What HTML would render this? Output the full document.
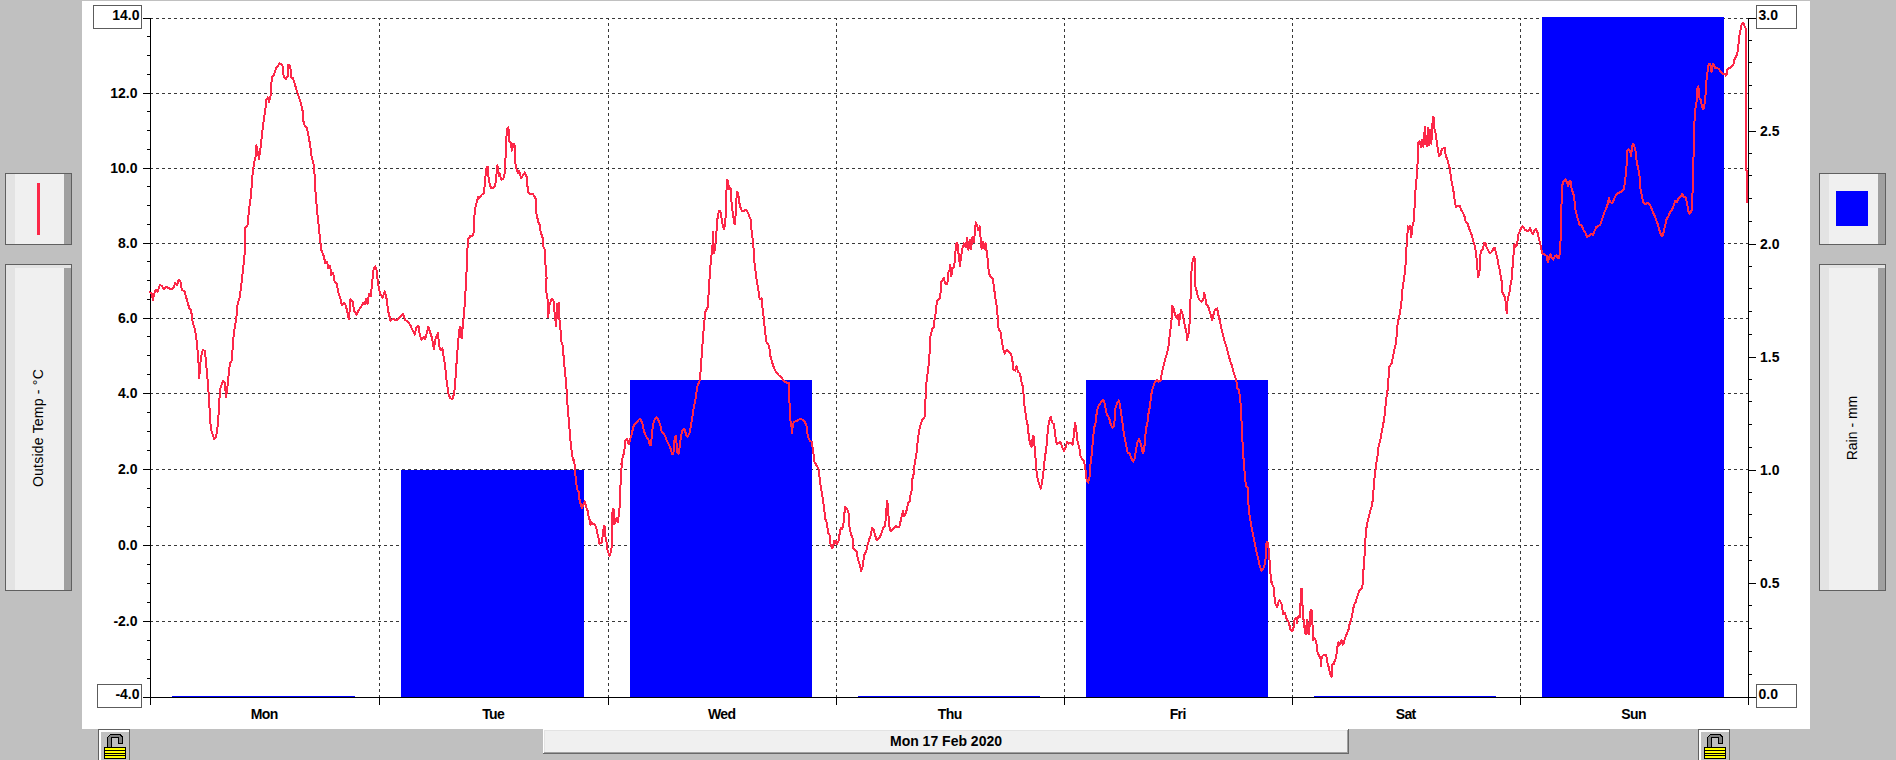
<!DOCTYPE html>
<html lang="en"><head><meta charset="utf-8"><title>Weather chart - Mon 17 Feb 2020</title>
<style>
html,body{margin:0;padding:0;background:#c0c0c0;overflow:hidden}
body{width:1896px;height:760px;position:relative}
svg{position:absolute;left:0;top:0;display:block}
text{font-family:"Liberation Sans",sans-serif;fill:#000}
.b{font-weight:bold;font-size:14px}
.r{font-size:14px}
</style></head><body>
<svg width="1896" height="760" viewBox="0 0 1896 760" shape-rendering="crispEdges">
<rect x="0" y="0" width="1896" height="760" fill="#c0c0c0"/>
<rect x="82" y="1" width="1728" height="728" fill="#fff"/>
<g fill="none" stroke="#383838" stroke-width="1" stroke-dasharray="3 3">
<path d="M150 18.5H1748"/>
<path d="M150 93.5H1748"/>
<path d="M150 168.5H1748"/>
<path d="M150 243.5H1748"/>
<path d="M150 318.5H1748"/>
<path d="M150 393.5H1748"/>
<path d="M150 469.5H1748"/>
<path d="M150 545.5H1748"/>
<path d="M150 621.5H1748"/>
<path d="M379.5 698V18"/>
<path d="M608.5 698V18"/>
<path d="M836.5 698V18"/>
<path d="M1064.5 698V18"/>
<path d="M1292.5 698V18"/>
<path d="M1520.5 698V18"/>
</g>
<rect x="172" y="696" width="183" height="1" fill="#0000ff"/>
<rect x="401" y="470" width="183" height="227" fill="#0000ff"/>
<rect x="630" y="380" width="182" height="317" fill="#0000ff"/>
<rect x="858" y="696" width="182" height="1" fill="#0000ff"/>
<rect x="1086" y="380" width="182" height="317" fill="#0000ff"/>
<rect x="1314" y="696" width="182" height="1" fill="#0000ff"/>
<rect x="1542" y="17" width="182" height="680" fill="#0000ff"/>
<g fill="#000">
<rect x="150" y="18" width="1" height="687"/>
<rect x="1748" y="18" width="1" height="687"/>
<rect x="143" y="697" width="1613" height="1"/>
<rect x="379" y="697" width="1" height="8"/>
<rect x="608" y="697" width="1" height="8"/>
<rect x="836" y="697" width="1" height="8"/>
<rect x="1064" y="697" width="1" height="8"/>
<rect x="1292" y="697" width="1" height="8"/>
<rect x="1520" y="697" width="1" height="8"/>
<rect x="143" y="18" width="8" height="1"/>
<rect x="147" y="36" width="4" height="1"/>
<rect x="147" y="55" width="4" height="1"/>
<rect x="147" y="74" width="4" height="1"/>
<rect x="143" y="93" width="8" height="1"/>
<rect x="147" y="111" width="4" height="1"/>
<rect x="147" y="130" width="4" height="1"/>
<rect x="147" y="149" width="4" height="1"/>
<rect x="143" y="168" width="8" height="1"/>
<rect x="147" y="186" width="4" height="1"/>
<rect x="147" y="205" width="4" height="1"/>
<rect x="147" y="224" width="4" height="1"/>
<rect x="143" y="243" width="8" height="1"/>
<rect x="147" y="261" width="4" height="1"/>
<rect x="147" y="280" width="4" height="1"/>
<rect x="147" y="299" width="4" height="1"/>
<rect x="143" y="318" width="8" height="1"/>
<rect x="147" y="336" width="4" height="1"/>
<rect x="147" y="355" width="4" height="1"/>
<rect x="147" y="374" width="4" height="1"/>
<rect x="143" y="393" width="8" height="1"/>
<rect x="147" y="412" width="4" height="1"/>
<rect x="147" y="431" width="4" height="1"/>
<rect x="147" y="450" width="4" height="1"/>
<rect x="143" y="469" width="8" height="1"/>
<rect x="147" y="488" width="4" height="1"/>
<rect x="147" y="507" width="4" height="1"/>
<rect x="147" y="526" width="4" height="1"/>
<rect x="143" y="545" width="8" height="1"/>
<rect x="147" y="564" width="4" height="1"/>
<rect x="147" y="583" width="4" height="1"/>
<rect x="147" y="602" width="4" height="1"/>
<rect x="143" y="621" width="8" height="1"/>
<rect x="147" y="640" width="4" height="1"/>
<rect x="147" y="659" width="4" height="1"/>
<rect x="147" y="678" width="4" height="1"/>
<rect x="143" y="697" width="8" height="1"/>
<rect x="1748" y="18" width="8" height="1"/>
<rect x="1748" y="40" width="4" height="1"/>
<rect x="1748" y="62" width="4" height="1"/>
<rect x="1748" y="85" width="4" height="1"/>
<rect x="1748" y="108" width="4" height="1"/>
<rect x="1748" y="131" width="8" height="1"/>
<rect x="1748" y="153" width="4" height="1"/>
<rect x="1748" y="175" width="4" height="1"/>
<rect x="1748" y="198" width="4" height="1"/>
<rect x="1748" y="221" width="4" height="1"/>
<rect x="1748" y="244" width="8" height="1"/>
<rect x="1748" y="266" width="4" height="1"/>
<rect x="1748" y="288" width="4" height="1"/>
<rect x="1748" y="311" width="4" height="1"/>
<rect x="1748" y="334" width="4" height="1"/>
<rect x="1748" y="357" width="8" height="1"/>
<rect x="1748" y="379" width="4" height="1"/>
<rect x="1748" y="401" width="4" height="1"/>
<rect x="1748" y="424" width="4" height="1"/>
<rect x="1748" y="447" width="4" height="1"/>
<rect x="1748" y="470" width="8" height="1"/>
<rect x="1748" y="492" width="4" height="1"/>
<rect x="1748" y="514" width="4" height="1"/>
<rect x="1748" y="537" width="4" height="1"/>
<rect x="1748" y="560" width="4" height="1"/>
<rect x="1748" y="583" width="8" height="1"/>
<rect x="1748" y="605" width="4" height="1"/>
<rect x="1748" y="628" width="4" height="1"/>
<rect x="1748" y="651" width="4" height="1"/>
<rect x="1748" y="674" width="4" height="1"/>
<rect x="1748" y="697" width="8" height="1"/>
</g>
<path d="M150 292.6 L151.6 293.4 L152.9 300 L154.2 293.4 L156.1 289.5 L157.6 291.6 L160 285 L162.1 286.3 L163.9 289.5 L166.1 286.8 L168.7 288.2 L171.3 289.5 L173.9 286.8 L175.3 282.9 L177.1 285.5 L178.7 279.7 L180.5 281.6 L181.8 289.5 L184.5 291.6 L186.6 298.7 L189.2 307.9 L191.1 310.5 L192.9 323.7 L195 328.9 L197.1 344.7 L198.4 360.5 L199.2 378.2 L200.3 363.2 L201.6 353.9 L202.9 349.5 L205 351.3 L206.3 365.8 L208.2 386.8 L209.5 407.9 L210.8 428.9 L212.6 434.2 L214.2 438.9 L216.1 436.8 L217.4 428.9 L218.7 413.2 L220 389.5 L221.8 384.2 L223.2 380.8 L224.7 382.9 L226.1 396.8 L227.4 386.8 L228.7 373.7 L230 363.2 L231.8 360.5 L233.2 339.5 L234.5 328.9 L236.3 318.4 L237.6 303.9 L239.7 297.4 L241.1 286.8 L242.9 271.1 L244.5 255.3 L244.5 250 L244.5 228.9 L247.6 225 L248.9 210.5 L250.8 197.4 L252.4 176.3 L254.2 161.8 L256.1 155.3 L256.3 145.3 L258.2 153.9 L258.9 159.2 L260.3 150 L262.1 134.2 L263.4 122.4 L265.3 110.5 L266.1 100 L267.9 97.4 L268.9 102.1 L270.5 96.1 L271.8 77.6 L273.9 75 L276.1 67.9 L277.9 66.3 L279.7 63.2 L282.4 65.3 L283.7 76.3 L285.8 79.5 L287.6 76.3 L288.4 64.5 L290.3 65.8 L291.1 77.6 L292.9 77.6 L294.5 82.9 L296.3 89.5 L298.2 94.7 L300.3 101.3 L302.4 109.2 L303.4 121.1 L305 126.3 L306.8 127.6 L308.7 136.8 L310.3 146.1 L311.6 156.6 L313.4 163.2 L314.7 176.3 L315.5 192.1 L316.8 207.9 L318.2 221.1 L319.5 234.2 L321.3 250 L323.9 256.6 L325.3 263.2 L327.1 261.8 L328.4 268.4 L330 265.8 L331.3 275 L331.3 273.9 L333.2 272.6 L334.7 281.8 L336.6 283.2 L338.4 292.4 L340.5 298.9 L341.8 305.5 L343.7 302.9 L345.3 304.2 L347.1 310.8 L348.9 319.5 L350.5 298.9 L352.6 301.6 L354.2 310.8 L356.3 314.7 L358.4 310.8 L361.1 306.8 L362.9 302.9 L364.7 304.2 L366.3 298.9 L367.6 304.2 L368.9 293.7 L370.8 296.3 L372.1 283.2 L373.4 270 L375.3 266.1 L376.8 271.3 L377.9 283.2 L380 293.7 L382.6 297.6 L384.7 291.1 L386.6 298.9 L388.4 312.1 L390.5 320.5 L393.2 318.7 L395.8 320.5 L398.4 318.7 L400.5 316.1 L403.2 313.9 L405 320 L407.6 321.3 L410.3 325.3 L412.9 330.5 L414.7 334.5 L416.3 327.9 L418.4 325.8 L420 335.8 L421.6 339.7 L423.7 337.1 L425.3 338.9 L426.8 333.2 L428.2 326.6 L430 331.8 L432.1 338.4 L433.9 348.9 L435.8 337.1 L437.9 333.2 L439.2 346.3 L440.5 350.3 L442.4 348.4 L443.7 356.8 L445.3 367.4 L446.6 380.5 L448.4 393.7 L450.3 398.4 L452.4 398.9 L454.2 393.7 L455.5 377.9 L456.8 359.5 L458.2 341.1 L459.5 329.2 L460.5 326.6 L461.6 338.4 L462.9 325.3 L464.2 312.1 L465.3 294.2 L466.3 278.4 L467.1 252.1 L468.4 238.9 L470.5 235.8 L472.4 236.3 L473.7 232.4 L474.5 215.3 L475.5 207.4 L477.1 200.8 L478.4 196.8 L479.5 198.2 L481.6 194.7 L483.7 193.7 L484.7 185 L486.1 169.2 L487.6 166.6 L488.9 181.1 L490.8 187.6 L493.4 188.4 L495.3 185 L496.3 175.8 L497.4 165.3 L498.7 175.8 L499.5 173.2 L501.3 179.7 L503.4 178.4 L504.7 173.2 L505.8 152.1 L506.8 129.7 L508.4 127.1 L509.2 141.6 L511.1 142.9 L511.8 150.8 L513.2 144.2 L514.5 144.2 L515 161.3 L516.6 169.2 L517.9 173.2 L519.2 171.1 L521.1 178.4 L523.2 174.5 L525 172.4 L526.8 177.1 L527.9 191.6 L530.3 194.2 L532.9 194.2 L535.5 198.2 L536.3 212.6 L538.2 221.8 L539.5 224.5 L540.8 232.4 L542.6 237.6 L543.4 246.8 L544.7 249.5 L545.5 265.3 L546.6 278.4 L545.8 280 L546.8 298.4 L548.2 299.7 L548.2 316.8 L549.5 305 L551.6 298.9 L553.7 301.1 L554.7 314.2 L556.1 326.1 L557.4 303.7 L558.9 303.2 L559.5 319.5 L560.8 332.6 L561.6 343.2 L562.9 345.8 L563.9 361.6 L565.3 374.7 L566.3 385.3 L567.4 403.7 L568.7 419.5 L570 435.3 L571.3 448.4 L572.6 457.6 L573.9 461.6 L574.2 460 L575 469.5 L575.8 478.9 L577.1 489.2 L578.6 491.6 L579.7 501.1 L581.3 505.8 L582.1 508.2 L583.7 503.4 L584.9 501.4 L586.1 507.4 L587.6 510.5 L588.7 516.8 L589.7 520 L590.3 524.7 L591.6 522.4 L593.2 523.9 L595.1 524.7 L596.3 527.9 L597.6 534.2 L598.7 538.9 L599.5 543.7 L600.7 543.4 L601.8 542.1 L602.9 534.2 L603.9 526 L604.7 526.3 L605.5 537.4 L606.6 542.1 L607.4 550 L608.6 553.2 L609.4 556 L610.5 553.2 L611.5 548.4 L612.1 535.8 L612.1 515.3 L612.9 508.9 L613.7 509.7 L614.2 523.9 L615.3 522.4 L616.4 518.4 L617.2 521.6 L617.9 522.4 L618.7 515.3 L619.7 505.8 L620.3 488.4 L621.1 475.8 L621.6 466.3 L622.4 460 L621.3 464.2 L622.6 457.6 L624.2 452.4 L625.3 440.5 L627.1 439.2 L628.7 444.5 L630 440 L631.8 433.9 L633.2 427.4 L635 423.4 L637.1 422.1 L638.9 419.5 L640.5 418.9 L642.4 423.4 L643.7 430 L645 433.9 L646.8 437.9 L648.4 439.2 L649.7 444.5 L650.8 445.3 L651.6 437.9 L652.9 424.7 L654.7 419.5 L656.8 417.4 L658.7 420.8 L660.3 424.7 L661.6 431.3 L663.4 433.2 L665.3 436.6 L666.8 440.5 L668.7 444.5 L670.5 448.4 L672.1 453.7 L673.4 453.7 L674.7 437.9 L676.1 435.8 L677.1 452.4 L678.7 453.7 L680 444.5 L681.1 435.3 L682.6 430 L684.5 428.7 L686.3 435.3 L687.9 436.6 L689.7 432.6 L691.1 424.7 L692.4 416.8 L693.7 407.6 L695 402.4 L696.3 393.2 L697.6 385.3 L699.5 381.3 L700.5 372.1 L702.9 338.9 L704.2 323.2 L705.5 311.3 L707.6 307.4 L708.4 296.8 L709.7 275.8 L711.1 257.4 L712.4 249.5 L712.9 231.6 L713.7 253.4 L715 249.5 L716.1 236.3 L717.4 219.2 L718.9 211.3 L720.3 210.8 L721.3 216.6 L722.6 224.5 L723.9 228.9 L725.3 223.2 L726.1 204.7 L726.8 179.7 L728.2 181.1 L728.9 188.9 L730.5 187.6 L731.6 203.4 L733.2 216.6 L734.7 224.5 L735.8 212.6 L736.8 192.1 L738.2 192.9 L739.2 202.1 L740.5 207.4 L742.1 211.3 L744.5 210.5 L746.6 210 L748.4 213.9 L750.5 219.2 L751.6 231.1 L753.2 242.9 L754.2 260 L755.5 270.5 L756.8 281.1 L758.2 288.9 L759.7 299.5 L761.6 298.2 L762.4 307.4 L763.7 317.9 L765 331.1 L766.3 341.6 L768.7 345.5 L769.7 350 L770.5 356.6 L772.4 363.2 L774.2 368.4 L776.3 372.4 L778.9 375.5 L781.6 377.6 L784.2 381.1 L786.8 382.9 L788.7 382.9 L789.5 402.6 L790.3 419.7 L791.3 425 L792.1 433.4 L792.9 423.7 L794.7 421.6 L797.4 420.5 L800 418.9 L802.6 419.7 L804.7 421.6 L806.6 426.3 L807.9 436.8 L810 440.8 L811.8 442.1 L813.2 451.3 L814.5 461.8 L816.3 465 L818.4 468.4 L819.7 478.9 L821.1 489.5 L821.3 490 L822.6 497.9 L823.9 507.1 L825.3 518.9 L826.8 522.9 L828.2 533.4 L829.9 535.4 L830.5 543.9 L831.8 547.9 L833.2 546.6 L834.1 540.7 L835.1 542.6 L836.1 540.7 L837.1 543.9 L838.4 541.3 L839.7 533.4 L840.8 528.2 L842.1 529.5 L843.4 524.2 L844.3 515 L845 506.8 L846.3 508.4 L847.9 510.4 L848.9 515 L849.6 528.2 L850.9 534.1 L852.6 538 L853.2 547.9 L854.9 549.9 L856.6 551.2 L857.5 557.1 L858.8 561.7 L860.1 565.7 L861.2 570.9 L862.4 567.6 L863.4 561.1 L864.5 554.5 L866.1 551.8 L867.4 545.3 L869.3 539.3 L870.7 535.4 L872 528.2 L873.6 529.5 L875 534.7 L876.6 540 L878.6 538.7 L880.3 536.1 L881.8 532.1 L883.2 528.2 L884.7 526.2 L885.8 518.9 L886.4 509.7 L887.1 500.5 L888 507.1 L888.7 518.9 L889.7 529.5 L891.1 530.8 L893 528.8 L894.3 528.2 L895.9 525.8 L897.6 527.1 L899.3 526.6 L900.5 521.6 L901.6 516.3 L902.9 511.1 L904.2 516.3 L905.5 513.7 L906.8 509.7 L908.2 503.2 L909.7 501.2 L910.5 495.3 L911.7 490 L911.8 481.6 L913.7 473.7 L914.7 463.2 L916.3 455.3 L917.6 442.1 L918.9 431.6 L920.5 425 L922.4 419.7 L924.5 417.1 L925.3 402.6 L926.3 384.2 L927.9 371.1 L929.2 360.5 L929.7 350 L929.5 339.5 L931.1 334.2 L932.1 328.9 L933.7 327.6 L934.7 318.4 L936.1 310.5 L936.8 301.3 L938.7 299.5 L940.3 297.4 L941.1 282.1 L942.6 280.3 L943.7 277.6 L945.3 283.7 L947.4 283.7 L948.2 272.4 L949.5 270.5 L950.3 264.5 L951.3 276.3 L952.6 268.4 L954.2 267.1 L955.3 252.6 L956.3 243.4 L957.4 242.9 L958.4 252.6 L960 265.8 L961.1 256.6 L962.4 248.7 L963.9 243.4 L965.8 247.4 L967.1 238.2 L968.4 250 L969.7 239.5 L971.1 248.7 L972.6 236.8 L973.9 242.1 L974.7 233.7 L975.8 222.4 L977.1 225 L978.4 230.3 L979.7 226.3 L980.5 236.8 L981.6 248.7 L983.2 242.1 L984.2 248.7 L985.5 243.4 L986.8 252.6 L987.9 260.5 L988.9 273.7 L990.8 276.8 L992.6 278.4 L993.9 286.8 L995.3 297.4 L996.6 305.3 L997.9 318.4 L998.7 330.3 L1000.5 331.6 L1001.6 339.5 L1003.2 348.7 L1004.7 353.9 L1006.6 350 L1008.4 351.3 L1010 352.4 L1012.1 357.6 L1013.4 369.5 L1015.3 370.8 L1016.6 366.3 L1017.9 371.6 L1020 373.4 L1021.3 381.3 L1023.2 387.9 L1023.9 401.1 L1025.3 411.6 L1026.6 420.8 L1027.9 426.1 L1028.9 437.9 L1030.5 444.5 L1031.6 447.1 L1032.9 435.8 L1033.7 436.6 L1035 451.1 L1036.3 469.5 L1037.6 478.7 L1039.5 485.3 L1040.8 488.7 L1042.1 482.6 L1043.4 472.1 L1044.7 458.9 L1046.3 448.4 L1047.6 432.6 L1048.9 422.1 L1050.8 416.8 L1052.1 422.6 L1053.9 424.2 L1055.3 435.3 L1056.6 443.7 L1058.7 443.2 L1060.5 441.8 L1062.1 447.1 L1063.9 451.1 L1065.8 447.1 L1067.1 441.8 L1068.7 443.7 L1070.5 442.6 L1072.6 444.5 L1073.9 435.3 L1075 422.6 L1076.3 430 L1077.6 441.8 L1079.2 447.1 L1080.5 456.3 L1082.4 459.5 L1084.2 461.6 L1085.8 472.1 L1086.8 481.3 L1088.2 482.6 L1089.5 477.4 L1090.5 464.2 L1091.8 453.7 L1092.9 440.5 L1094.2 427.4 L1095.8 422.1 L1096.8 411.6 L1098.2 406.3 L1100 403.7 L1101.6 401.1 L1103.4 399.7 L1104.7 403.7 L1106.1 411.6 L1107.4 415.5 L1109.2 418.2 L1110.8 424.7 L1112.6 427.9 L1114.2 425.3 L1115.3 408.9 L1116.8 403.7 L1118.7 400.5 L1120 405 L1121.3 414.2 L1122.6 423.4 L1123.9 433.9 L1125.8 443.2 L1127.6 452.4 L1129.7 453.7 L1131.6 458.9 L1133.2 461.6 L1134.5 458.9 L1135.8 451.1 L1137.1 443.2 L1138.9 439.2 L1140.3 441.8 L1141.6 447.1 L1142.9 453.2 L1144.2 449.7 L1145.3 435.3 L1146.3 427.4 L1147.9 420.8 L1148.9 408.9 L1150 408.4 L1150.8 396.6 L1152.6 388.7 L1154.7 382.1 L1156.6 380 L1158.4 381.6 L1160.5 380.8 L1161.8 372.9 L1163.7 365 L1165.3 358.4 L1167.1 353.2 L1168.4 346.6 L1169.5 337.4 L1170.5 329.5 L1171.6 318.9 L1172.1 305.8 L1173.2 307.1 L1174.5 312.4 L1175.8 316.3 L1177.1 318.4 L1178.2 315 L1178.9 325.5 L1180 316.3 L1181.1 309.7 L1182.4 313.7 L1183.7 320.3 L1185 326.8 L1186.3 330.8 L1187.1 340 L1188.4 334.7 L1189.5 324.2 L1190.3 308.4 L1190.8 287.4 L1191.6 268.9 L1192.6 261.1 L1193.9 257.1 L1194.7 258.4 L1195 274.2 L1195.5 287.4 L1196.8 291.3 L1197.9 296.6 L1199.5 300 L1201.3 301.8 L1203.2 300 L1204.2 292.6 L1205.3 296.6 L1206.1 304.5 L1207.9 305.3 L1209.2 309.7 L1210.5 313.7 L1212.1 320.3 L1213.4 315 L1215 309.7 L1217.1 308.4 L1218.4 315 L1220 321.6 L1221.6 329.5 L1223.2 336.1 L1225 342.6 L1226.8 347.9 L1228.4 354.5 L1230.3 361.1 L1232.1 366.3 L1233.7 372.9 L1235.5 378.2 L1236.8 383.4 L1237.4 388.7 L1238.9 390 L1240 397.9 L1241.1 408.4 L1241.6 424.2 L1241.8 430 L1242.6 443.2 L1243.7 461.6 L1245 477.4 L1245.8 485.3 L1247.6 487.9 L1248.4 503.7 L1249.7 516.8 L1251.1 524.7 L1252.9 533.9 L1254.7 543.2 L1256.3 551.1 L1258.2 558.9 L1260 566.8 L1261.6 570.8 L1263.4 568.2 L1264.7 564.2 L1265.8 557.6 L1266.6 541.8 L1267.9 543.2 L1268.9 551.1 L1270 566.8 L1271.1 582.6 L1271.3 580 L1272 583.9 L1273.7 587.2 L1274.3 595.8 L1275.5 603.7 L1276.8 607 L1277.9 605 L1278.6 601.1 L1279.5 600 L1280.8 602.4 L1281.8 604.3 L1282.5 609.6 L1283.4 614.2 L1284.7 612.9 L1285.8 616.2 L1286.8 619.5 L1288.2 620.8 L1289.3 624.1 L1290 628.7 L1291.1 630.4 L1292.4 630.7 L1293.4 629.3 L1293.9 622.1 L1294.7 619.5 L1296.1 618.2 L1297 622.8 L1297.6 618.2 L1298.7 616.2 L1300 617.5 L1300.3 607.6 L1300.7 599.7 L1301.1 588.9 L1302 589.2 L1302.4 599.7 L1302.6 610.3 L1303.3 618.2 L1304.2 623.4 L1304.9 633.3 L1305.8 633.9 L1306.4 626.1 L1307.1 620.1 L1307.8 623.4 L1308.2 633.3 L1309.1 633.9 L1309.7 623.4 L1310.1 611.6 L1311.1 609.6 L1312.1 610.9 L1312.4 622.1 L1312.8 632.6 L1313.2 639.9 L1314.5 637.9 L1315.8 640.5 L1316.7 644.5 L1317.1 651.1 L1318.4 654.3 L1319.7 657 L1320.7 658.9 L1321.1 666.2 L1321.6 657.6 L1322.6 655.7 L1324.2 655 L1325.9 654.7 L1326.6 657.6 L1327.2 662.2 L1328.6 666.8 L1329.5 670.8 L1330.5 674.7 L1331.2 676.7 L1332.1 676.1 L1332.2 669.5 L1332.5 664.2 L1333.8 664.2 L1334.7 660.9 L1335.8 658.3 L1336.4 655 L1337.1 649.7 L1337.8 644.5 L1338.4 642.5 L1339.7 644.5 L1340.8 641.8 L1341.7 640.5 L1342.6 644.5 L1343.7 643.8 L1344.3 640.5 L1345.3 637.9 L1346.1 635.3 L1347.4 632.6 L1348.6 629.3 L1349.2 625.4 L1350.3 622.1 L1351.3 619.5 L1352.2 614.9 L1353.2 608.9 L1354.2 604.3 L1355.5 602.4 L1356.8 598.4 L1357.9 594.5 L1359.2 591.2 L1360.8 589.2 L1362.4 587.2 L1362.8 580 L1363.7 566.8 L1364.7 553.7 L1365.3 540.5 L1366.1 530 L1367.4 522.1 L1369.2 515.5 L1370.8 508.9 L1372.1 505 L1373.2 495.8 L1373.9 482.6 L1375.3 472.1 L1376.6 461.6 L1377.9 453.7 L1378.7 444.5 L1380 441.8 L1381.1 435.3 L1384.2 418.9 L1385.3 408.4 L1386.3 397.9 L1387.6 390 L1388.4 379.5 L1389.5 366.3 L1391.6 363.7 L1392.9 357.1 L1394.2 350.5 L1395.8 343.9 L1396.8 334.7 L1397.6 324.2 L1398.9 317.6 L1400.3 311.1 L1401.6 300.5 L1402.4 290 L1405.3 268.9 L1406.3 250.5 L1407.4 234.7 L1407.9 226.3 L1409.2 229.5 L1410.3 225.5 L1411.3 237.4 L1412.4 226.8 L1413.7 221.6 L1414.5 208.4 L1415.3 195.3 L1415.8 182.1 L1417.1 176.8 L1417.6 161.1 L1418.4 142.6 L1419.7 141.3 L1421.1 147.4 L1422.1 140 L1423.4 146.6 L1424.2 134.7 L1425 126.8 L1426.1 143.9 L1427.1 146.6 L1428.2 128.2 L1429.2 145.3 L1430.3 129.5 L1431.3 143.9 L1432.1 129.5 L1432.9 116.8 L1433.9 117.6 L1434.7 132.1 L1435.8 133.4 L1436.8 142.6 L1437.9 149.2 L1438.9 155.8 L1440.5 155.3 L1441.8 149.2 L1443.4 148.4 L1444.7 147.9 L1445.8 155.8 L1447.4 159.7 L1448.7 165 L1450 168.9 L1451.1 179.5 L1452.6 186.1 L1453.9 193.9 L1455 203.2 L1456.3 207.1 L1457.9 205.8 L1459.7 205.8 L1461.1 209.7 L1462.9 212.4 L1464.5 216.3 L1465.8 222.4 L1467.6 222.9 L1468.9 228.2 L1470.5 232.1 L1472.1 236.1 L1473.7 242.6 L1475 246.6 L1476.3 255.8 L1477.4 268.9 L1478.2 276.8 L1479.5 271.6 L1480 255.8 L1481.3 250.5 L1482.9 249.2 L1484.2 242.6 L1485.5 243.4 L1486.8 247.9 L1488.2 250.5 L1490 253.2 L1491.8 251.8 L1493.4 248.7 L1494.7 247.9 L1496.1 253.2 L1497.4 258.4 L1498.7 266.3 L1500 270.3 L1501.1 279.5 L1501.6 280.8 L1502.4 292.6 L1504.2 295.3 L1505.5 300.5 L1506.8 313.2 L1507.6 299.2 L1509.2 293.9 L1510.5 284.7 L1511.6 279.5 L1512.6 266.3 L1513.7 253.2 L1514.5 243.9 L1515.8 246.6 L1517.1 245.3 L1518.2 234.7 L1519.5 232.1 L1521.1 228.2 L1522.9 226.3 L1524.7 229.5 L1526.8 230.8 L1528.7 230.8 L1530 228.2 L1531.6 232.1 L1532.9 234.2 L1534.2 230.8 L1536.1 228.9 L1537.4 232.1 L1538.7 237.4 L1540 242.6 L1541.3 249.2 L1542.6 253.7 L1544.7 254.5 L1546.6 255.8 L1547.9 262.4 L1549.2 257.1 L1550.5 254.5 L1551.8 258.4 L1553.2 259.7 L1555 255.8 L1556.3 255.3 L1557.9 258.4 L1559.2 258.4 L1560.3 247.9 L1561.1 221.6 L1561.6 200.5 L1562.4 184.7 L1563.7 180.8 L1565.5 179.5 L1566.8 182.1 L1568.2 186.1 L1569.5 180.8 L1570.8 182.1 L1571.6 188.7 L1572.9 192.6 L1574.2 196.6 L1575 208.4 L1576.8 215 L1578.2 220.3 L1579.5 224.7 L1581.6 225.5 L1583.4 229.5 L1583.2 229.7 L1585.3 232.4 L1587.1 236.8 L1588.9 236.3 L1591.1 233.7 L1592.9 235 L1594.5 231.1 L1596.3 227.1 L1598.4 225.8 L1600.3 224.5 L1602.1 219.2 L1604.2 212.6 L1606.1 208.7 L1607.6 204.2 L1608.9 198.2 L1610.3 202.1 L1612.1 203.4 L1613.9 199.5 L1616.1 194.7 L1617.9 192.9 L1620 192.4 L1622.1 191.1 L1623.9 188.9 L1625.3 179.7 L1626.6 165.3 L1627.4 150.8 L1628.7 149.5 L1630 150.8 L1631.1 156.1 L1632.1 146.8 L1633.2 143.7 L1634.5 146.8 L1635.8 152.1 L1636.8 162.6 L1638.4 169.2 L1639.7 177.1 L1640.5 188.9 L1641.8 195.5 L1643.2 202.1 L1645 204.2 L1646.8 203.4 L1648.9 203.4 L1650.5 206.1 L1652.1 210 L1653.7 213.9 L1655.5 217.9 L1657.4 223.2 L1658.9 228.4 L1660.3 233.2 L1661.6 236.3 L1662.6 235.8 L1663.9 231.1 L1665.3 224.5 L1666.6 219.2 L1668.2 216.6 L1670 212.1 L1672.1 209.5 L1673.9 204.7 L1675.3 200.8 L1677.1 202.1 L1678.7 198.2 L1680.5 196.8 L1682.1 193.7 L1683.7 196.8 L1685.8 197.4 L1687.1 203.4 L1688.4 211.3 L1689.7 213.9 L1691.6 210.5 L1692.6 191.6 L1693.2 170.5 L1693.7 149.5 L1694.2 128.4 L1695 110 L1696.3 104.7 L1697.4 88.9 L1698.4 86.3 L1699.5 98.2 L1700.8 99.5 L1702.1 107.4 L1703.4 109.2 L1704.7 103.4 L1705.8 91.6 L1705.8 84.7 L1706.8 78.4 L1707.4 73.2 L1708.1 67.4 L1708.9 63.7 L1710 64.2 L1710.8 66.8 L1711.6 72.1 L1712.1 66.8 L1712.9 63.7 L1714 64.7 L1714.7 67.9 L1715.8 67.4 L1717.4 68.4 L1718.9 68.9 L1720 71.1 L1721.6 73.2 L1723.2 73.7 L1724.7 73.7 L1725.8 75.8 L1726.6 74.2 L1727.1 70 L1728.1 68.4 L1729.5 67.9 L1730.8 67.4 L1732.1 65.8 L1733.4 64.2 L1734.2 60.5 L1735.1 57.9 L1736.3 56.3 L1737.2 53.2 L1737.9 50 L1738.4 45.8 L1738.9 39.5 L1739.5 35.3 L1740.3 31.1 L1741.1 25.8 L1741.9 23.7 L1743.2 22.8 L1743.9 24.7 L1744.7 26.3 L1745.6 28.4 L1746 36 L1746 170 L1747 171 L1747 202" fill="none" stroke="#fc2848" stroke-width="2" stroke-linejoin="round" stroke-linecap="square"/>
<rect x="93.5" y="5.5" width="48" height="23" fill="#fff" stroke="#5c5c5c" stroke-width="1"/>
<rect x="97.5" y="684.5" width="44" height="23" fill="#fff" stroke="#5c5c5c" stroke-width="1"/>
<rect x="1756.5" y="5.5" width="40" height="23" fill="#fff" stroke="#5c5c5c" stroke-width="1"/>
<rect x="1756.5" y="684.5" width="40" height="23" fill="#fff" stroke="#5c5c5c" stroke-width="1"/>
<g class="b" shape-rendering="auto">
<text x="139.5" y="20" text-anchor="end">14.0</text>
<text x="137.5" y="98" text-anchor="end">12.0</text>
<text x="137.5" y="173" text-anchor="end">10.0</text>
<text x="137.5" y="248" text-anchor="end">8.0</text>
<text x="137.5" y="323" text-anchor="end">6.0</text>
<text x="137.5" y="398" text-anchor="end">4.0</text>
<text x="137.5" y="474" text-anchor="end">2.0</text>
<text x="137.5" y="550" text-anchor="end">0.0</text>
<text x="137.5" y="626" text-anchor="end">-2.0</text>
<text x="139.5" y="699" text-anchor="end">-4.0</text>
<text x="1758.5" y="20">3.0</text>
<text x="1760" y="136">2.5</text>
<text x="1760" y="249">2.0</text>
<text x="1760" y="362">1.5</text>
<text x="1760" y="475">1.0</text>
<text x="1760" y="588">0.5</text>
<text x="1758.5" y="699">0.0</text>
<text x="264.2" y="719" text-anchor="middle" letter-spacing="-0.6">Mon</text>
<text x="493.2" y="719" text-anchor="middle" letter-spacing="-0.6">Tue</text>
<text x="721.7" y="719" text-anchor="middle" letter-spacing="-0.6">Wed</text>
<text x="949.7" y="719" text-anchor="middle" letter-spacing="-0.6">Thu</text>
<text x="1177.7" y="719" text-anchor="middle" letter-spacing="-0.6">Fri</text>
<text x="1405.7" y="719" text-anchor="middle" letter-spacing="-0.6">Sat</text>
<text x="1633.7" y="719" text-anchor="middle" letter-spacing="-0.6">Sun</text>
</g>
<rect x="5" y="173" width="67" height="72" fill="#606060"/>
<rect x="6" y="174" width="65" height="70" fill="#f0f0f0"/>
<rect x="6" y="174" width="9" height="70" fill="#e3e3e3"/>
<rect x="64" y="174" width="7" height="70" fill="#a0a0a0"/>
<rect x="5" y="264" width="67" height="327" fill="#606060"/>
<rect x="6" y="265" width="65" height="325" fill="#f0f0f0"/>
<rect x="6" y="265" width="9" height="325" fill="#e3e3e3"/>
<rect x="6" y="265" width="65" height="3" fill="#e3e3e3"/>
<rect x="64" y="268" width="7" height="322" fill="#a0a0a0"/>
<rect x="1819" y="173" width="67" height="72" fill="#606060"/>
<rect x="1820" y="174" width="65" height="70" fill="#f0f0f0"/>
<rect x="1820" y="174" width="9" height="70" fill="#e3e3e3"/>
<rect x="1878" y="174" width="7" height="70" fill="#a0a0a0"/>
<rect x="1819" y="264" width="67" height="327" fill="#606060"/>
<rect x="1820" y="265" width="65" height="325" fill="#f0f0f0"/>
<rect x="1820" y="265" width="9" height="325" fill="#e3e3e3"/>
<rect x="1820" y="265" width="65" height="3" fill="#e3e3e3"/>
<rect x="1878" y="268" width="7" height="322" fill="#a0a0a0"/>
<rect x="37" y="183" width="3" height="52" fill="#fc2848"/>
<rect x="1836" y="191" width="32" height="35" fill="#0000ff"/>
<g class="r" shape-rendering="auto">
<text transform="translate(43 428) rotate(-90)" text-anchor="middle" letter-spacing="0.22">Outside Temp - °C</text>
<text transform="translate(1857 428) rotate(-90)" text-anchor="middle">Rain - mm</text>
</g>
<rect x="543" y="729" width="806" height="25" fill="#f0f0f0"/>
<rect x="543" y="729" width="805" height="1" fill="#fff"/>
<rect x="543" y="729" width="1" height="24" fill="#fff"/>
<rect x="544" y="730" width="803" height="1" fill="#e3e3e3"/>
<rect x="544" y="730" width="1" height="22" fill="#e3e3e3"/>
<rect x="544" y="752" width="804" height="1" fill="#a0a0a0"/>
<rect x="1347" y="730" width="1" height="23" fill="#a0a0a0"/>
<rect x="543" y="753" width="806" height="1" fill="#696969"/>
<rect x="1348" y="729" width="1" height="25" fill="#696969"/>
<text class="b" shape-rendering="auto" x="946" y="746" text-anchor="middle">Mon 17 Feb 2020</text>
<g transform="translate(98 729)">
<rect x="0" y="0" width="32" height="31" fill="#606060"/>
<rect x="1" y="1" width="30" height="30" fill="#fff"/>
<rect x="3" y="3" width="28" height="28" fill="#c0c0c0"/>
<path d="M9 18V8L12 5H22L25 8V15H20V9H14V18Z" fill="#000"/>
<path d="M10 18V8.5L12.5 6H21.5L24 8.5V14H21V8H13V18Z" fill="#808080"/>
<rect x="6" y="18" width="22" height="12" fill="#000"/>
<rect x="7" y="19" width="20" height="2" fill="#ffff00"/>
<rect x="7" y="22" width="20" height="2" fill="#ffff00"/>
<rect x="7" y="25" width="20" height="1" fill="#ffff00"/>
<rect x="7" y="27" width="20" height="2" fill="#ffff00"/>
</g>
<g transform="translate(1698 729)">
<rect x="0" y="0" width="32" height="31" fill="#606060"/>
<rect x="1" y="1" width="30" height="30" fill="#fff"/>
<rect x="3" y="3" width="28" height="28" fill="#c0c0c0"/>
<path d="M9 18V8L12 5H22L25 8V15H20V9H14V18Z" fill="#000"/>
<path d="M10 18V8.5L12.5 6H21.5L24 8.5V14H21V8H13V18Z" fill="#808080"/>
<rect x="6" y="18" width="22" height="12" fill="#000"/>
<rect x="7" y="19" width="20" height="2" fill="#ffff00"/>
<rect x="7" y="22" width="20" height="2" fill="#ffff00"/>
<rect x="7" y="25" width="20" height="1" fill="#ffff00"/>
<rect x="7" y="27" width="20" height="2" fill="#ffff00"/>
</g>
</svg>
</body></html>
